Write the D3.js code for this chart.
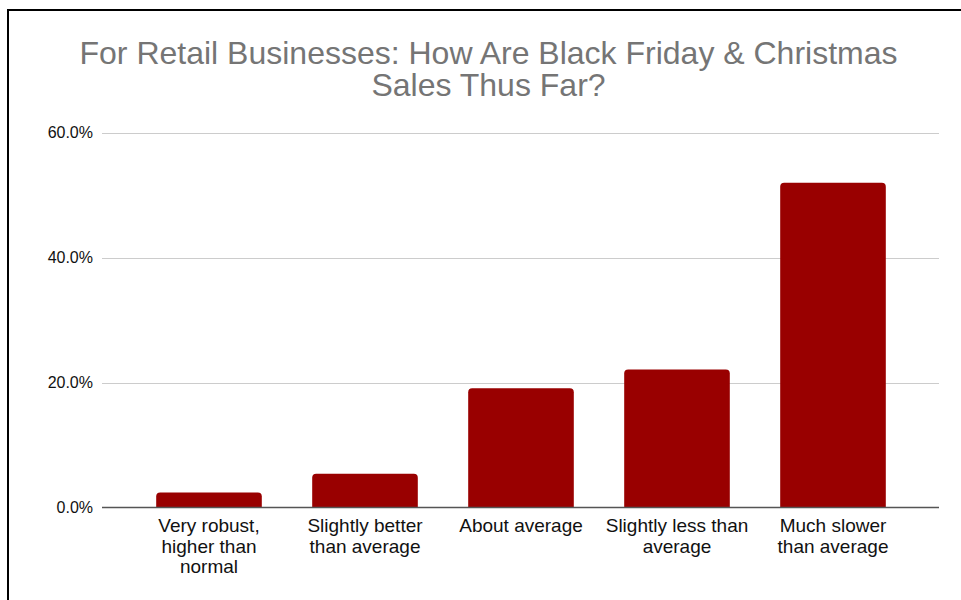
<!DOCTYPE html>
<html>
<head>
<meta charset="utf-8">
<script src="https://cdn.jsdelivr.net/npm/d3@7"></script>
<style>
  html, body { margin: 0; padding: 0; background: #fff; }
  svg { display: block; font-family: "Liberation Sans", Arial, Helvetica, sans-serif; }
</style>
</head>
<body>
<svg id="chart" width="961" height="600"></svg>
<script>
// Survey responses: share of retail businesses per sales outcome
const titleLines = ["For Retail Businesses: How Are Black Friday & Christmas", "Sales Thus Far?"];
const categories = [
  ["Very robust,", "higher than", "normal"],
  ["Slightly better", "than average"],
  ["About average"],
  ["Slightly less than", "average"],
  ["Much slower", "than average"]
];
const shares = [0.024, 0.054, 0.191, 0.221, 0.520];
const yTicks = [0, 0.2, 0.4, 0.6];

const svg = d3.select("#chart");
const W = 961, H = 600;

// Frame around the chart
svg.append("path")
  .attr("d", `M8,${H + 2} L8,10 L${W + 2},10`)
  .attr("fill", "none")
  .attr("stroke", "#000")
  .attr("stroke-width", 2);

// Title
const title = svg.append("text")
  .attr("text-anchor", "middle")
  .attr("fill", "#757575")
  .attr("font-size", 32);
titleLines.forEach((t, i) => {
  title.append("tspan").attr("x", 488.5).attr("y", 64 + i * 32).text(t);
});

const ids = categories.map((c, i) => i);
const x = d3.scaleBand().domain(ids).range([131, 911]).paddingInner(0.323).paddingOuter(0.1615);
const y = d3.scaleLinear().domain([0, 0.6]).range([507.5, 132.7]);
const gridLeft = 102, gridRight = 939;

// Horizontal gridlines
svg.append("g").selectAll("line")
  .data(yTicks.filter(v => v > 0))
  .join("line")
  .attr("x1", gridLeft).attr("x2", gridRight)
  .attr("y1", d => Math.round(y(d)) + 0.5).attr("y2", d => Math.round(y(d)) + 0.5)
  .attr("stroke", "#cccccc").attr("stroke-width", 1);

// Y axis labels
const yAxis = d3.axisLeft(y).tickValues(yTicks).tickFormat(d3.format(".1%")).tickSize(0).tickPadding(0);
const gy = svg.append("g").attr("transform", "translate(93,0)").call(yAxis);
gy.select(".domain").remove();
gy.selectAll("text")
  .attr("font-size", 16)
  .attr("font-family", "Liberation Sans, Arial, sans-serif")
  .attr("fill", "#111");

// Bars with rounded top corners
function barPath(x0, w, yTop, yBase, r) {
  r = Math.min(r, (yBase - yTop), w / 2);
  return `M${x0},${yBase} L${x0},${yTop + r} Q${x0},${yTop} ${x0 + r},${yTop} ` +
         `L${x0 + w - r},${yTop} Q${x0 + w},${yTop} ${x0 + w},${yTop + r} L${x0 + w},${yBase} Z`;
}
svg.append("g").selectAll("path")
  .data(shares)
  .join("path")
  .attr("d", (d, i) => barPath(x(i), x.bandwidth(), y(d), y(0), 4))
  .attr("fill", "#990000");

// Baseline
svg.append("line")
  .attr("x1", gridLeft).attr("x2", gridRight)
  .attr("y1", y(0)).attr("y2", y(0))
  .attr("stroke", "#555").attr("stroke-width", 1.5);

// Category labels
const labels = svg.append("g").selectAll("text")
  .data(categories)
  .join("text")
  .attr("text-anchor", "middle")
  .attr("font-size", 19)
  .attr("fill", "#111");
labels.each(function(lines, i) {
  const cx = x(i) + x.bandwidth() / 2;
  d3.select(this).selectAll("tspan")
    .data(lines)
    .join("tspan")
    .attr("x", cx)
    .attr("y", (d, j) => 532 + j * 20.5)
    .text(d => d);
});
</script>
</body>
</html>
